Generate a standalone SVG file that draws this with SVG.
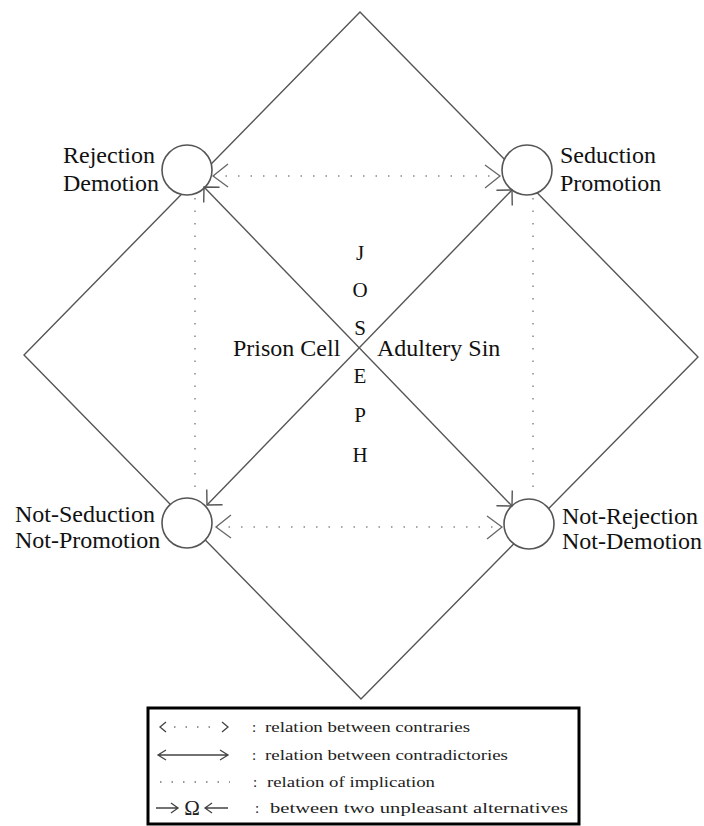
<svg xmlns="http://www.w3.org/2000/svg" width="704" height="826" viewBox="0 0 704 826">
<style>
  .edge { fill: none; stroke: #555; stroke-width: 1.4; }
  .diag { fill: none; stroke: #555; stroke-width: 1.4; }
  .dot { fill: none; stroke: #888; stroke-width: 1.5; stroke-dasharray: 1.5 11; }
  .node { fill: #fff; stroke: #555; stroke-width: 1.6; }
  .lbl { font-family: "Liberation Serif", "Times New Roman", serif; font-size: 24px; fill: #111; }
  .jos { font-family: "Liberation Serif", "Times New Roman", serif; font-size: 21px; fill: #111; text-anchor: middle; }
  .leg { font-family: "Liberation Serif", "Times New Roman", serif; font-size: 15px; fill: #222; }
  .omega { font-family: "Liberation Serif", "Times New Roman", serif; font-size: 21px; fill: #222; text-anchor: middle; }
  .sym { fill: none; stroke: #444; stroke-width: 1.3; }
  .symdot { fill: none; stroke: #777; stroke-width: 1.5; stroke-dasharray: 1.5 10; }
</style>
<defs>
  <marker id="vhead" markerUnits="userSpaceOnUse" markerWidth="30" markerHeight="30" refX="0" refY="0" orient="auto-start-reverse" overflow="visible">
    <path d="M-11,-11 L0,0 L-11,11" fill="none" stroke="#555" stroke-width="1.4"/>
  </marker>
  <marker id="chead" markerUnits="userSpaceOnUse" markerWidth="30" markerHeight="30" refX="0" refY="0" orient="auto-start-reverse" overflow="visible">
    <path d="M-15,-11 L0,0 L-15,12" fill="none" stroke="#666" stroke-width="1.3"/>
  </marker>
</defs>
<rect width="704" height="826" fill="#fff"/>

<g id="connectors">
  <polygon class="edge" points="360,12 698,357 361,699 24,355"/>
</g>

<g id="node-rejection">
  <circle class="node" cx="187" cy="170" r="25"/>
  <text class="lbl" x="63" y="163">Rejection</text>
  <text class="lbl" x="63" y="191">Demotion</text>
</g>
<g id="node-seduction">
  <circle class="node" cx="527" cy="170" r="25"/>
  <text class="lbl" x="560" y="163">Seduction</text>
  <text class="lbl" x="560" y="191">Promotion</text>
</g>
<g id="node-not-seduction">
  <circle class="node" cx="187" cy="523" r="25"/>
  <text class="lbl" x="15" y="522">Not-Seduction</text>
  <text class="lbl" x="15" y="548">Not-Promotion</text>
</g>
<g id="node-not-rejection">
  <circle class="node" cx="529" cy="524" r="25"/>
  <text class="lbl" x="562" y="524">Not-Rejection</text>
  <text class="lbl" x="562" y="549">Not-Demotion</text>
</g>

<g id="relations">
  <line class="diag" x1="204" y1="187" x2="512" y2="506" marker-start="url(#vhead)" marker-end="url(#vhead)"/>
  <line class="diag" x1="512" y1="190" x2="207" y2="505" marker-start="url(#vhead)" marker-end="url(#vhead)"/>
  <line class="dot" x1="213" y1="176" x2="500" y2="176" marker-start="url(#chead)" marker-end="url(#chead)"/>
  <line class="dot" x1="216" y1="527" x2="502" y2="527" marker-start="url(#chead)" marker-end="url(#chead)"/>
  <line class="dot" x1="195" y1="198" x2="195" y2="496"/>
  <line class="dot" x1="533" y1="198" x2="533" y2="496"/>
</g>

<g id="node-center">
  <text class="lbl" x="233" y="356">Prison Cell</text>
  <text class="lbl" x="377" y="356">Adultery Sin</text>
  <text class="jos" x="360" y="260">J</text>
  <text class="jos" x="360" y="297">O</text>
  <text class="jos" x="360" y="335">S</text>
  <text class="jos" x="360" y="383">E</text>
  <text class="jos" x="360" y="422">P</text>
  <text class="jos" x="360" y="462">H</text>
</g>

<g id="legend">
  <rect x="148" y="708" width="431" height="116" fill="#fff" stroke="#000" stroke-width="3"/>
  <path class="sym" d="M166,722 L160,727 L166,732 M222,722 L228,727 L222,732" stroke="#666"/>
  <line class="symdot" x1="174" y1="727" x2="216" y2="727"/>
  <path class="sym" d="M158,755 L228,755 M166,750 L158,755 L166,760 M220,750 L228,755 L220,760"/>
  <line class="symdot" x1="160" y1="782" x2="230" y2="782"/>
  <path class="sym" d="M156,808 L178,808 M171,803 L178,808 L171,813 M205,808 L228,808 M212,803 L205,808 L212,813"/>
  <text class="omega" x="192" y="815">Ω</text>
  <text class="leg" x="252" y="732">:</text>
  <text class="leg" x="252" y="760">:</text>
  <text class="leg" x="253" y="787">:</text>
  <text class="leg" x="255" y="813">:</text>
  <text class="leg" x="265" y="732" textLength="205" lengthAdjust="spacingAndGlyphs">relation between contraries</text>
  <text class="leg" x="265" y="760" textLength="243" lengthAdjust="spacingAndGlyphs">relation between contradictories</text>
  <text class="leg" x="267" y="787" textLength="168" lengthAdjust="spacingAndGlyphs">relation of implication</text>
  <text class="leg" x="270" y="813" textLength="298" lengthAdjust="spacingAndGlyphs">between two unpleasant alternatives</text>
</g>
</svg>
